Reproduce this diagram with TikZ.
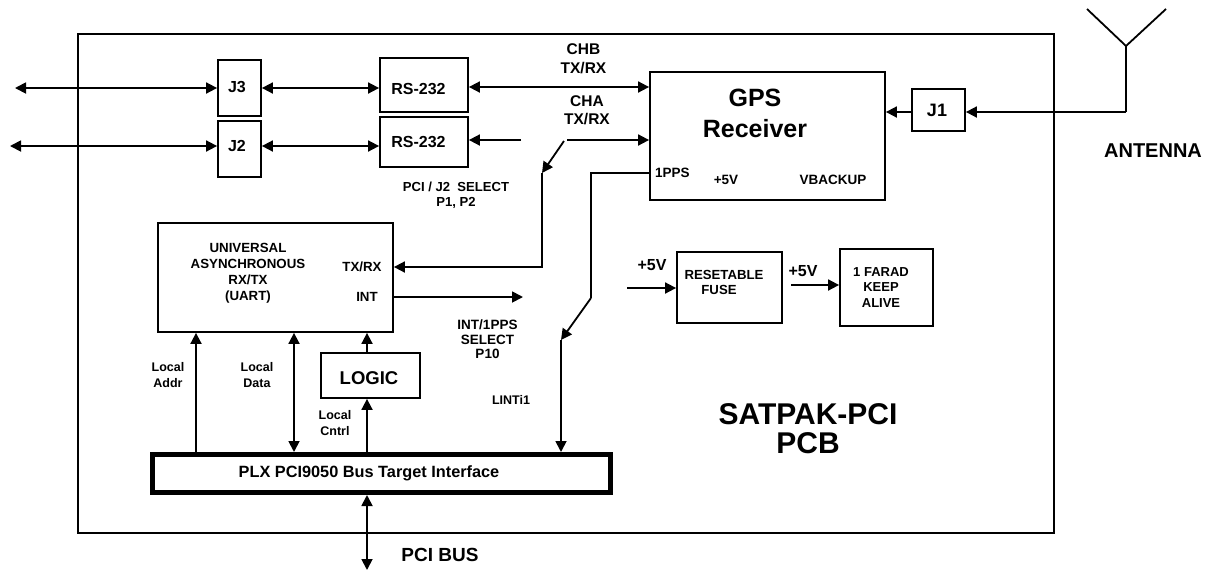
\documentclass[tikz,border=0pt]{standalone}
\usepackage{fontspec}
\setmainfont{Liberation Sans}
\usetikzlibrary{arrows.meta,calc}
\newcommand{\fsz}[2]{\fontsize{#1}{#2}\selectfont\bfseries}
\tikzset{
  ln/.style={line width=1.8pt},
  arr/.style={ln,-{Triangle[length=11pt,width=11pt]}},
  dbl/.style={ln,{Triangle[length=11pt,width=11pt]}-{Triangle[length=11pt,width=11pt]}},
  blk/.style={draw,line width=1.8pt,inner sep=0pt,fill=white},
  txt/.style={inner sep=0pt,align=center},
}
\begin{document}
\begin{tikzpicture}[x=1pt,y=-1pt]
\useasboundingbox (0,0) rectangle (1213,571);
% board
\node[draw,line width=2pt,inner sep=0pt,minimum width=976pt,minimum height=499pt] (board) at (566,283.5) {};
% boxes
\node[blk,minimum width=43pt,minimum height=56pt] (j3) at (239.5,88) {};
\node[blk,minimum width=43pt,minimum height=56pt] (j2) at (239.5,149) {};
\node[blk,minimum width=88pt,minimum height=54pt] (rs1) at (424,85) {};
\node[blk,minimum width=88pt,minimum height=50pt] (rs2) at (424,142) {};
\node[blk,minimum width=235pt,minimum height=128pt] (gps) at (767.5,136) {};
\node[blk,minimum width=53pt,minimum height=42pt] (j1) at (938.5,110) {};
\node[blk,minimum width=235pt,minimum height=109pt] (uart) at (275.5,277.5) {};
\node[blk,minimum width=99pt,minimum height=45pt] (logic) at (370.5,375.5) {};
\node[draw,line width=5pt,inner sep=0pt,minimum width=458pt,minimum height=38pt] (plx) at (381.5,473.5) {};
\node[blk,minimum width=105pt,minimum height=71pt] (fuse) at (729.5,287.5) {};
\node[blk,minimum width=93pt,minimum height=77pt] (farad) at (886.5,287.5) {};
% texts
\node[txt,font=\fsz{16}{18}] (tj3) at (237,87) {J3};
\node[txt,font=\fsz{16}{18}] (tj2) at (237,146) {J2};
\node[txt,font=\fsz{16}{18}] (trs1) at (418.5,89) {RS-232};
\node[txt,font=\fsz{16}{18}] (trs2) at (418.5,142) {RS-232};
\node[txt,font=\fsz{15.5}{19}] (tchb) at (583.5,58.5) {CHB\\TX/RX};
\node[txt,font=\fsz{15.5}{18}] (tcha) at (587,110) {CHA\\TX/RX};
\node[txt,font=\fsz{25}{31}] (tgps) at (755,113.5) {GPS\\Receiver};
\node[txt,anchor=west,font=\fsz{13.5}{15}] (tpps) at (655,173) {1PPS};
\node[txt,font=\fsz{13.5}{15}] (t5v) at (726,180) {+5V};
\node[txt,font=\fsz{13.5}{15}] (tvb) at (833,180) {VBACKUP};
\node[txt,font=\fsz{18}{20}] (tj1) at (937,110) {J1};
\node[txt,font=\fsz{20}{22}] (tant) at (1153,151) {ANTENNA};
\node[txt,font=\fsz{13.1}{15}] (tsel) at (456,195.5) {PCI / J2\ \ SELECT\\P1, P2};
\node[txt,font=\fsz{13.3}{16}] (tuart) at (248,273) {UNIVERSAL\\ASYNCHRONOUS\\RX/TX\\(UART)};
\node[txt,font=\fsz{13.3}{15}] (ttxrx) at (362,267) {TX/RX};
\node[txt,font=\fsz{13.3}{15}] (tint) at (367,297) {INT};
\node[txt,font=\fsz{13.5}{14.5}] (tisel) at (487.5,339.5) {INT/1PPS\\SELECT\\P10};
\node[txt,font=\fsz{12.5}{14}] (tlint) at (511,400) {LINTi1};
\node[txt,font=\fsz{12.5}{16}] (tla) at (168,375) {Local\\Addr};
\node[txt,font=\fsz{12.5}{16}] (tld) at (257,375) {Local\\Data};
\node[txt,font=\fsz{12.5}{16}] (tlc) at (335,423) {Local\\Cntrl};
\node[txt,font=\fsz{18.5}{20}] (tlogic) at (369,378) {LOGIC};
\node[txt,font=\fsz{16.3}{18}] (tplx) at (369,473) {PLX PCI9050 Bus Target Interface};
\node[txt,font=\fsz{19}{21}] (tpci) at (440,555) {PCI BUS};
\node[txt,font=\fsz{16}{18}] (tf5) at (652,265) {+5V};
\node[txt,font=\fsz{16}{18}] (tk5) at (803,271) {+5V};
\node[txt,font=\fsz{13.2}{15}] (tres) at (724,275) {RESETABLE};
\node[txt,font=\fsz{13.2}{15}] (tfuse) at (719,290) {FUSE};
\node[txt,font=\fsz{13}{15.5}] (tfar) at (881,287.5) {1 FARAD\\KEEP\\ALIVE};
\node[txt,font=\fsz{30}{29}] (tsat) at (808,428.5) {SATPAK-PCI\\PCB};
% coordinates
\coordinate (l3) at (15,88);
\coordinate (l2) at (10,146);
\coordinate (chb) at (500,87);
\coordinate (chaL) at (521,140);
\coordinate (chaR) at (567,140);
\coordinate (bladeTop) at (564,141);
\coordinate (bladeTip) at (542,173);
\coordinate (txrx) at (542,267);
\coordinate (intEnd) at (523,297);
\coordinate (ppsA) at (591,173);
\coordinate (ppsB) at (591,298);
\coordinate (ppsTip) at (561,340);
\coordinate (xa) at (196,0);
\coordinate (xd) at (294,0);
\coordinate (xl) at (367,0);
\coordinate (pcib) at (367,570);
\coordinate (aL) at (1087,9);
\coordinate (aM) at (1126,46);
\coordinate (aR) at (1166,9);
\coordinate (aB) at (1126,112);
\coordinate (f5) at (627,288);
\coordinate (f6) at (791,285);
% connectors
\draw[dbl] (l3) -- (l3 -| j3.west);
\draw[dbl] (l2) -- (l2 -| j2.west);
\draw[dbl] (j3.east) -- (j3.east -| rs1.west);
\draw[dbl] (l2 -| j2.east) -- (l2 -| rs2.west);
\draw[dbl] (chb -| rs1.east) -- (chb -| gps.west);
\draw[arr] (chaL) -- (chaL -| rs2.east);
\draw[arr] (chaR) -- (chaR -| gps.west);
\draw[arr] (bladeTop) -- (bladeTip);
\draw[arr] (bladeTip) -- (txrx) -- (txrx -| uart.east);
\draw[arr] (intEnd -| uart.east) -- (intEnd);
\draw[ln] (ppsA -| gps.west) -- (ppsA) -- (ppsB);
\draw[arr] (ppsB) -- (ppsTip);
\draw[arr] (ppsTip) -- (ppsTip |- plx.north);
\draw[arr] (xa |- plx.north) -- (xa |- uart.south);
\draw[dbl] (xd |- plx.north) -- (xd |- uart.south);
\draw[arr] (xl |- logic.north) -- (xl |- uart.south);
\draw[arr] (xl |- plx.north) -- (xl |- logic.south);
\draw[dbl] (plx.south -| pcib) -- (pcib);
\draw[ln] (aL) -- (aM) -- (aR);
\draw[ln] (aM) -- (aB);
\draw[arr] (aB) -- (aB -| j1.east);
\draw[arr] (j1.west |- aB) -- (aB -| gps.east);
\draw[arr] (f5) -- (f5 -| fuse.west);
\draw[arr] (f6) -- (f6 -| farad.west);
\end{tikzpicture}
\end{document}
